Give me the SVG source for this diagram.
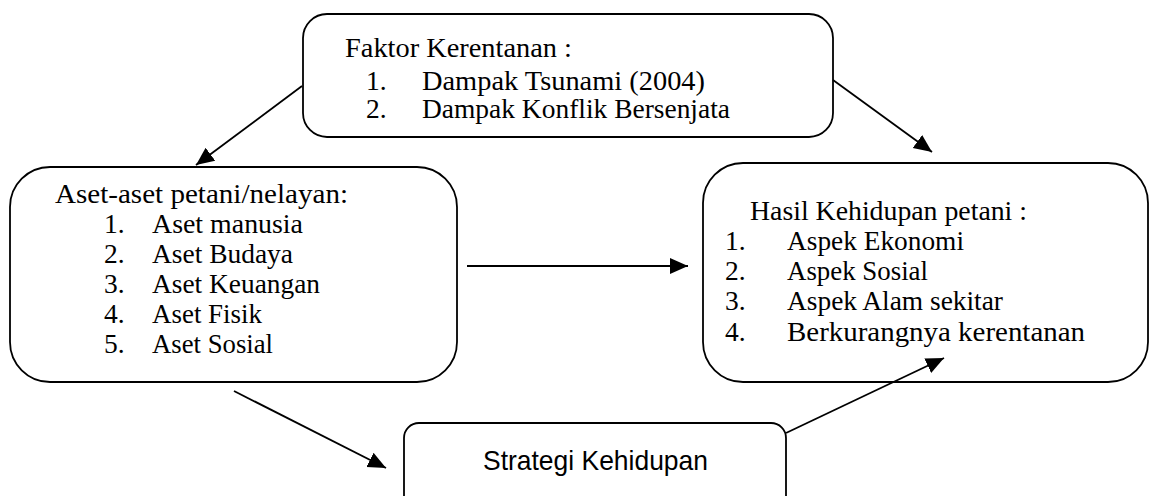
<svg xmlns="http://www.w3.org/2000/svg" width="1150" height="496" viewBox="0 0 1150 496">
<style>
.box{fill:#fff;stroke:#000;stroke-width:1.8}
.t{font-family:"Liberation Serif","Times New Roman",serif;font-size:27.5px;fill:#000}
.s{font-family:"Liberation Sans",Arial,sans-serif;font-size:28px;fill:#000}
.c{stroke:#000;stroke-width:1.8;fill:none;marker-end:url(#ah)}
</style>
<defs>
<marker id="ah" markerUnits="userSpaceOnUse" markerWidth="20" markerHeight="18" viewBox="0 0 20 18" refX="18" refY="9" orient="auto">
<path d="M0,1 L18,9 L0,17 Z" fill="#000"/>
</marker>
</defs>
<g id="faktor">
<rect class="box" x="303" y="14" width="530" height="123" rx="24"/>
<text class="t" x="345" y="57" textLength="227" lengthAdjust="spacingAndGlyphs">Faktor Kerentanan :</text>
<text class="t" x="366" y="90">1.</text>
<text class="t" x="422" y="90" textLength="283" lengthAdjust="spacingAndGlyphs">Dampak Tsunami (2004)</text>
<text class="t" x="366" y="118">2.</text>
<text class="t" x="422" y="118" textLength="308" lengthAdjust="spacingAndGlyphs">Dampak Konflik Bersenjata</text>
</g>
<g id="aset">
<rect class="box" x="10" y="167" width="447" height="215" rx="40"/>
<text class="t" x="55" y="203" textLength="293" lengthAdjust="spacingAndGlyphs">Aset-aset petani/nelayan:</text>
<text class="t" x="104" y="233">1.</text>
<text class="t" x="152" y="233" textLength="151" lengthAdjust="spacingAndGlyphs">Aset manusia</text>
<text class="t" x="104" y="263">2.</text>
<text class="t" x="152" y="263" textLength="141" lengthAdjust="spacingAndGlyphs">Aset Budaya</text>
<text class="t" x="104" y="293">3.</text>
<text class="t" x="152" y="293" textLength="168" lengthAdjust="spacingAndGlyphs">Aset Keuangan</text>
<text class="t" x="104" y="323">4.</text>
<text class="t" x="152" y="323" textLength="110" lengthAdjust="spacingAndGlyphs">Aset Fisik</text>
<text class="t" x="104" y="353">5.</text>
<text class="t" x="152" y="353" textLength="121" lengthAdjust="spacingAndGlyphs">Aset Sosial</text>
</g>
<g id="hasil">
<rect class="box" x="703" y="163" width="445" height="219" rx="40"/>
<text class="t" x="750" y="220" textLength="277" lengthAdjust="spacingAndGlyphs">Hasil Kehidupan petani :</text>
<text class="t" x="725" y="250">1.</text>
<text class="t" x="787" y="250" textLength="177" lengthAdjust="spacingAndGlyphs">Aspek Ekonomi</text>
<text class="t" x="725" y="280">2.</text>
<text class="t" x="787" y="280" textLength="141" lengthAdjust="spacingAndGlyphs">Aspek Sosial</text>
<text class="t" x="725" y="310">3.</text>
<text class="t" x="787" y="310" textLength="216" lengthAdjust="spacingAndGlyphs">Aspek Alam sekitar</text>
<text class="t" x="725" y="341">4.</text>
<text class="t" x="787" y="341" textLength="298" lengthAdjust="spacingAndGlyphs">Berkurangnya kerentanan</text>
</g>
<g id="strategi">
<rect class="box" x="404" y="423" width="382" height="90" rx="15"/>
<text class="s" x="483" y="470" textLength="225" lengthAdjust="spacingAndGlyphs">Strategi Kehidupan</text>
</g>
<g id="connectors">
<line class="c" x1="302" y1="86" x2="196" y2="165"/>
<line class="c" x1="833" y1="80" x2="932" y2="152"/>
<line class="c" x1="467" y1="266" x2="688" y2="266"/>
<line class="c" x1="234" y1="391" x2="386" y2="468"/>
<line class="c" x1="786" y1="433" x2="944" y2="358"/>
</g>
</svg>
